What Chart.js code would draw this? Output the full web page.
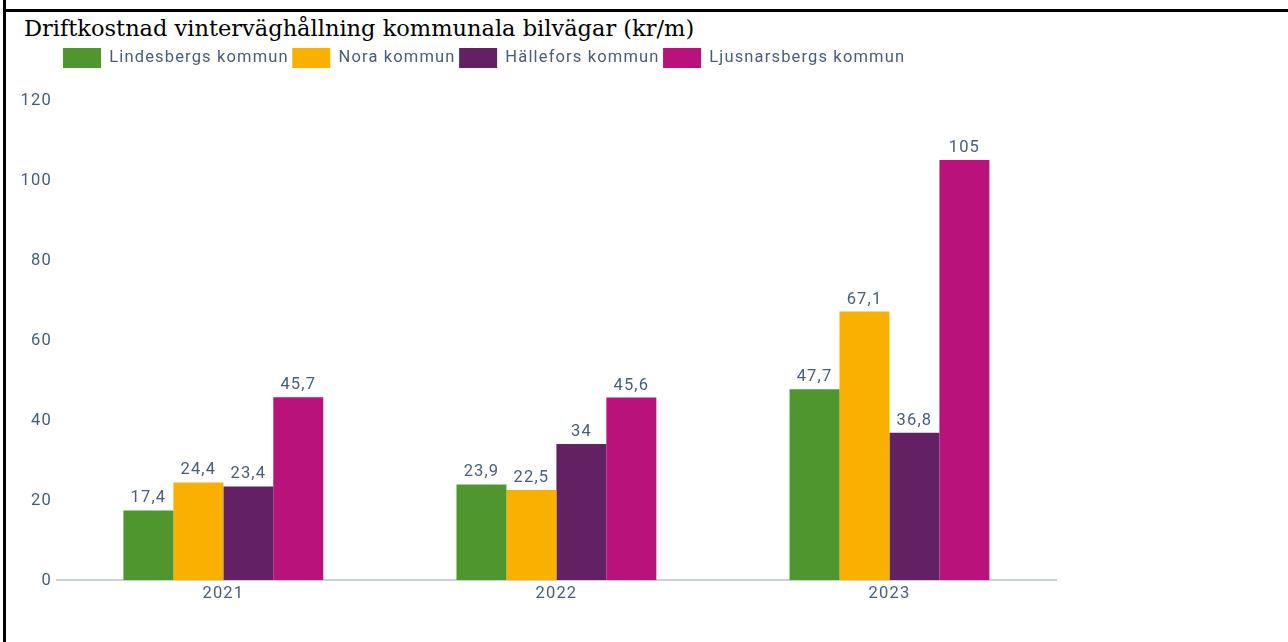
<!DOCTYPE html>
<html>
<head>
<meta charset="utf-8">
<script src="https://cdn.jsdelivr.net/npm/chart.js@4.4.1/dist/chart.umd.min.js"></script>
<style>
  html, body { margin: 0; padding: 0; background: #fff; }
  body { width: 1288px; height: 642px; position: relative; overflow: hidden; }
  #frameLeft { position: absolute; left: 3px; top: 0; width: 3px; height: 642px; background: #000; }
  #frameTop { position: absolute; left: 3px; top: 9px; width: 1285px; height: 3px; background: #000; }
  #title {
    position: absolute; left: 24px; top: 17px;
    font-family: "DejaVu Serif", serif; font-size: 22.5px; line-height: 22px;
    color: #000; white-space: nowrap;
  }
  #wrap { position: absolute; left: 0; top: 0; width: 1288px; height: 642px; }
</style>
</head>
<body>
<div id="frameLeft"></div>
<div id="frameTop"></div>
<div id="title">Driftkostnad vinterväghållning kommunala bilvägar (kr/m)</div>
<div id="wrap"><canvas id="costChart"></canvas></div>
<script>
// Values
const years = ["2021", "2022", "2023"];
const lindesberg = [17.4, 23.9, 47.7];
const nora = [24.4, 22.5, 67.1];
const hallefors = [23.4, 34, 36.8];
const ljusnarsberg = [45.7, 45.6, 105];
const yTicks = [0, 20, 40, 60, 80, 100, 120];

const textColor = "#475d7f";
const labelFont = { family: "Roboto", size: 16.5 };

// Canvas letter spacing for the slightly wide label text
const letterSpacing = {
  id: "letterSpacing",
  beforeLayout(chart) {
    chart.ctx.letterSpacing = "1.15px";
  },
  beforeDraw(chart) {
    chart.ctx.letterSpacing = "1.15px";
  },
};

// Legend: fixed height below it, and shifted right to line up with the plot
const legendPlace = {
  id: "legendPlace",
  beforeLayout(chart) {
    const legend = chart.legend;
    if (legend && !legend._patched) {
      const origFit = legend.fit;
      legend.fit = function () {
        origFit.call(this);
        this.height = 55.5;
      };
      legend._patched = true;
    }
  },
  afterLayout(chart) {
    chart.legend.left = 59.5;
  },
};

// Value labels above each bar (Swedish decimal comma)
const barValues = {
  id: "barValues",
  afterDatasetsDraw(chart) {
    const ctx = chart.ctx;
    ctx.save();
    ctx.font = "16.5px Roboto";
    ctx.fillStyle = textColor;
    ctx.textAlign = "center";
    ctx.textBaseline = "alphabetic";
    chart.data.datasets.forEach((ds, i) => {
      chart.getDatasetMeta(i).data.forEach((bar, j) => {
        const text = String(ds.data[j]).replace(".", ",");
        ctx.fillText(text, bar.x, bar.y - 8);
      });
    });
    ctx.restore();
  },
};

new Chart(document.getElementById("costChart"), {
  type: "bar",
  data: {
    labels: years,
    datasets: [
      { label: "Lindesbergs kommun", data: lindesberg, backgroundColor: "#4f962f" },
      { label: "Nora kommun", data: nora, backgroundColor: "#f9b000" },
      { label: "Hällefors kommun", data: hallefors, backgroundColor: "#632163" },
      { label: "Ljusnarsbergs kommun", data: ljusnarsberg, backgroundColor: "#b9127a" },
    ].map((ds) => ({
      ...ds,
      borderWidth: 0,
      categoryPercentage: 0.6,
      barPercentage: 1.0,
    })),
  },
  options: {
    responsive: true,
    maintainAspectRatio: false,
    animation: false,
    layout: {
      padding: { left: 6, right: 232, top: 44.5, bottom: 0 },
    },
    plugins: {
      legend: {
        position: "top",
        align: "start",
        labels: {
          boxWidth: 38,
          boxHeight: 20,
          padding: 3.5,
          color: textColor,
          font: labelFont,
        },
      },
      tooltip: { enabled: false },
    },
    scales: {
      x: {
        grid: { display: false, drawTicks: false },
        border: { display: true, color: "#c8d1dc", width: 2 },
        ticks: { color: textColor, font: labelFont, padding: 4 },
        afterFit: (axis) => {
          axis.height = 62;
        },
      },
      y: {
        min: 0,
        max: 120,
        grid: { display: false, drawTicks: false },
        border: { display: false },
        ticks: { color: textColor, font: labelFont, padding: 5, labelOffset: 1 },
        afterBuildTicks: (axis) => {
          axis.ticks = yTicks.map((v) => ({ value: v }));
        },
        afterFit: (axis) => {
          axis.width = 50.8;
        },
      },
    },
  },
  plugins: [letterSpacing, legendPlace, barValues],
});
</script>
</body>
</html>
